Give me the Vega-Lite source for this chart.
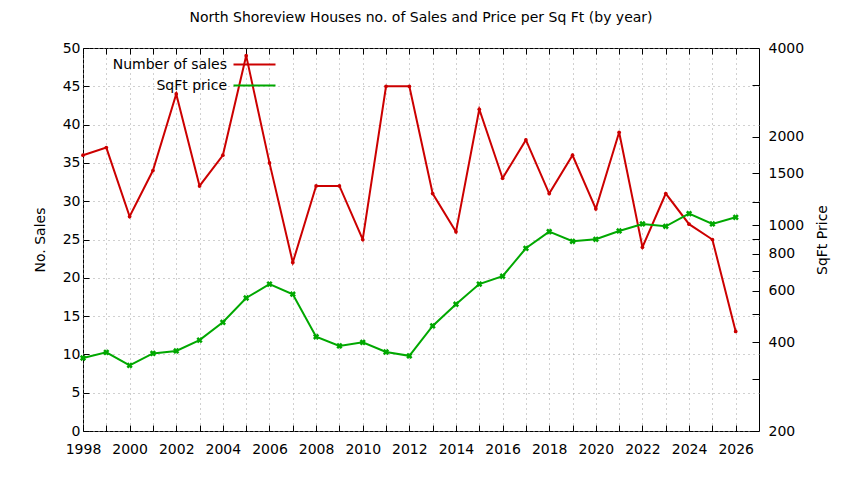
{
  "$schema": "https://vega.github.io/schema/vega-lite/v6.json",
  "width": 676,
  "height": 383,
  "autosize": "none",
  "padding": {"left": 83, "top": 48, "right": 85, "bottom": 49},
  "title": {
    "text": "North Shoreview Houses no. of Sales and Price per Sq Ft (by year)",
    "font": "DejaVu Sans",
    "fontSize": 14,
    "fontWeight": "normal",
    "color": "black",
    "offset": 16
  },
  "config": {
    "view": {"stroke": "black", "strokeWidth": 1},
    "axis": {
      "labelFont": "DejaVu Sans",
      "labelFontSize": 14,
      "labelColor": "black",
      "titleFont": "DejaVu Sans",
      "titleFontSize": 14,
      "titleFontWeight": "normal",
      "titleColor": "black",
      "domain": false,
      "tickColor": "black",
      "gridColor": "#a0a0a0",
      "gridDash": [1, 4],
      "gridWidth": 1
    },
    "legend": {
      "labelFont": "DejaVu Sans",
      "labelFontSize": 14,
      "labelColor": "black"
    }
  },
  "data": {
    "values": [
      {"year": 1998, "sales": 36, "price": 354},
      {"year": 1999, "sales": 37, "price": 370},
      {"year": 2000, "sales": 28, "price": 334},
      {"year": 2001, "sales": 34, "price": 367},
      {"year": 2002, "sales": 44, "price": 374},
      {"year": 2003, "sales": 32, "price": 407},
      {"year": 2004, "sales": 36, "price": 468},
      {"year": 2005, "sales": 49, "price": 566},
      {"year": 2006, "sales": 35, "price": 631},
      {"year": 2007, "sales": 22, "price": 583},
      {"year": 2008, "sales": 32, "price": 418},
      {"year": 2009, "sales": 32, "price": 389},
      {"year": 2010, "sales": 25, "price": 400},
      {"year": 2011, "sales": 45, "price": 371},
      {"year": 2012, "sales": 45, "price": 360},
      {"year": 2013, "sales": 31, "price": 455},
      {"year": 2014, "sales": 26, "price": 539},
      {"year": 2015, "sales": 42, "price": 631},
      {"year": 2016, "sales": 33, "price": 671},
      {"year": 2017, "sales": 38, "price": 835},
      {"year": 2018, "sales": 31, "price": 951},
      {"year": 2019, "sales": 36, "price": 882},
      {"year": 2020, "sales": 29, "price": 896},
      {"year": 2021, "sales": 39, "price": 956},
      {"year": 2022, "sales": 24, "price": 1010},
      {"year": 2023, "sales": 31, "price": 992},
      {"year": 2024, "sales": 27, "price": 1095},
      {"year": 2025, "sales": 25, "price": 1010},
      {"year": 2026, "sales": 13, "price": 1064}
    ]
  },
  "layer": [
    {
      "mark": {
        "type": "line",
        "strokeWidth": 2,
        "point": {"shape": "circle", "size": 14, "filled": true}
      },
      "encoding": {
        "x": {
          "field": "year",
          "type": "quantitative",
          "scale": {"domain": [1998, 2027], "nice": false, "zero": false},
          "axis": {
            "orient": "bottom",
            "title": null,
            "values": [1998, 1999, 2000, 2001, 2002, 2003, 2004, 2005, 2006, 2007, 2008, 2009, 2010, 2011, 2012, 2013, 2014, 2015, 2016, 2017, 2018, 2019, 2020, 2021, 2022, 2023, 2024, 2025, 2026],
            "labelExpr": "datum.value % 2 == 0 ? datum.label : ''",
            "format": "d",
            "grid": true,
            "tickSize": -6,
            "labelPadding": 17,
            "labelFlush": false,
            "labelOverlap": false
          }
        },
        "y": {
          "field": "sales",
          "type": "quantitative",
          "scale": {"domain": [0, 50], "nice": false},
          "axis": {
            "orient": "left",
            "title": "No. Sales",
            "values": [0, 5, 10, 15, 20, 25, 30, 35, 40, 45, 50],
            "grid": true,
            "tickSize": -6,
            "labelPadding": 9,
            "titlePadding": 15
          }
        },
        "color": {
          "datum": "Number of sales",
          "type": "nominal",
          "scale": {
            "domain": ["Number of sales", "SqFt price"],
            "range": ["#cc0000", "#00a800"]
          },
          "legend": {
            "title": null,
            "orient": "none",
            "legendX": 160,
            "legendY": 5,
            "symbolType": "M-2,0H2",
            "symbolSize": 441,
            "symbolStrokeWidth": 2,
            "labelAlign": "right",
            "labelOffset": -39,
            "rowPadding": 2
          }
        }
      }
    },
    {
      "mark": {
        "type": "line",
        "strokeWidth": 2,
        "point": {"shape": "cross", "angle": 45, "size": 40, "filled": true}
      },
      "encoding": {
        "x": {
          "field": "year",
          "type": "quantitative",
          "axis": {
            "orient": "top",
            "title": null,
            "values": [1998, 1999, 2000, 2001, 2002, 2003, 2004, 2005, 2006, 2007, 2008, 2009, 2010, 2011, 2012, 2013, 2014, 2015, 2016, 2017, 2018, 2019, 2020, 2021, 2022, 2023, 2024, 2025, 2026],
            "labels": false,
            "grid": false,
            "tickSize": -6
          }
        },
        "y": {
          "field": "price",
          "type": "quantitative",
          "scale": {"type": "log", "domain": [200, 4000], "nice": false},
          "axis": {
            "orient": "right",
            "title": "SqFt Price",
            "titleAngle": 270,
            "values": [200, 300, 400, 500, 600, 700, 800, 900, 1000, 1200, 1500, 2000, 3000, 4000],
            "labelExpr": "indexof([200, 400, 600, 800, 1000, 1500, 2000, 4000], datum.value) >= 0 ? datum.value : ''",
            "grid": false,
            "tickSize": -7,
            "labelPadding": 16,
            "titlePadding": 26
          }
        },
        "color": {"datum": "SqFt price", "type": "nominal"}
      }
    }
  ],
  "resolve": {"scale": {"y": "independent"}, "axis": {"x": "independent"}}
}
